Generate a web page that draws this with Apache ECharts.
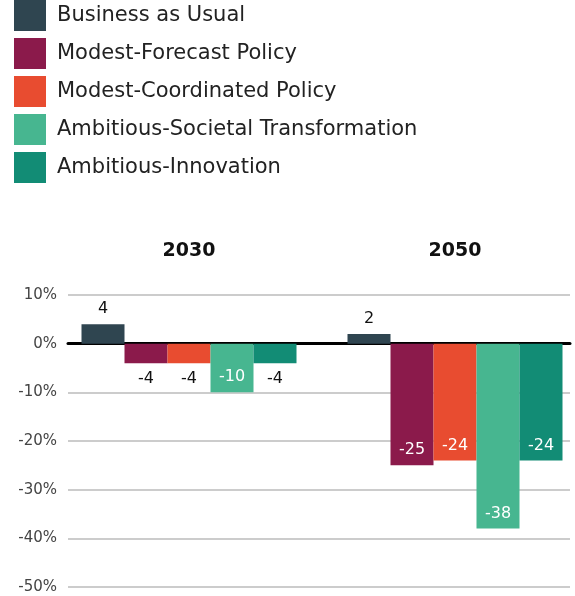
<!DOCTYPE html>
<html>
<head>
<meta charset="utf-8">
<script src="https://cdn.jsdelivr.net/npm/echarts@6/dist/echarts.min.js"></script>
<style>
  html, body { margin: 0; padding: 0; background: #fff; }
  #chart { width: 575px; height: 596px; }
</style>
</head>
<body>
<div id="chart"></div>
<script>
var years = ['2030', '2050'];
var seriesNames = ['Business as Usual', 'Modest-Forecast Policy', 'Modest-Coordinated Policy', 'Ambitious-Societal Transformation', 'Ambitious-Innovation'];
var colors = ['#2f4550', '#8b1a4b', '#e84c30', '#47b690', '#128c75'];
var businessAsUsual = [4, 2];
var modestForecast = [-4, -25];
var modestCoordinated = [-4, -24];
var ambitiousSocietal = [-10, -38];
var ambitiousInnovation = [-4, -24];
var allValues = [businessAsUsual, modestForecast, modestCoordinated, ambitiousSocietal, ambitiousInnovation];

var font = '"DejaVu Sans", "Noto Sans", sans-serif';

// positive -> above, small negative -> below the bar, big negative -> inside at the bottom
function labelFor(v) {
  if (v > 0) {
    return { show: true, position: 'top', distance: 7, color: '#111', fontSize: 16 };
  }
  if (v >= -5) {
    return { show: true, position: 'bottom', distance: 8, color: '#111', fontSize: 16 };
  }
  return { show: true, position: 'insideBottom', distance: 7, color: '#fff', fontSize: 16 };
}

var seriesArr = [];
for (let i = 0; i < seriesNames.length; i++) {
  seriesArr.push({
    name: seriesNames[i],
    type: 'bar',
    xAxisIndex: 1,
    yAxisIndex: 1,
    barWidth: 43,
    barGap: '0%',
    itemStyle: { color: colors[i] },
    data: allValues[i].map(function (v) {
      return { value: v, label: labelFor(v) };
    })
  });
}

var option = {
  animation: false,
  textStyle: { fontFamily: font },
  legend: {
    orient: 'vertical',
    left: 14,
    top: 0,
    padding: 0,
    itemWidth: 32,
    itemHeight: 31,
    itemGap: 7,
    icon: 'rect',
    textStyle: { fontSize: 21, color: '#222', fontFamily: font, padding: [3, 0, 0, 6] },
    data: seriesNames
  },
  grid: [
    { left: 68, right: 5, top: 295, bottom: 9, outerBoundsMode: 'none' },   // gridlines + zero line
    { left: 56, width: 532, top: 295, bottom: 9, outerBoundsMode: 'none' }  // bars
  ],
  xAxis: [
    {
      type: 'category',
      gridIndex: 0,
      data: years,
      axisLine: { onZero: true, lineStyle: { color: '#000', width: 3 } },
      axisTick: { show: false },
      axisLabel: { show: false }
    },
    {
      type: 'category',
      gridIndex: 1,
      data: years,
      axisLine: { show: false },
      axisTick: { show: false },
      axisLabel: { show: false }
    },
    {
      type: 'category',
      gridIndex: 1,
      data: years,
      position: 'top',
      axisLine: { show: false },
      axisTick: { show: false },
      axisLabel: { show: true, margin: 34, fontSize: 19, fontWeight: 'bold', color: '#111', fontFamily: font }
    }
  ],
  yAxis: [
    {
      type: 'value',
      gridIndex: 0,
      min: -50,
      max: 10,
      interval: 10,
      axisLine: { show: false },
      axisTick: { show: false },
      axisLabel: {
        formatter: '{value}%',
        fontSize: 15,
        color: '#444',
        margin: 11,
        fontFamily: font
      },
      splitLine: { lineStyle: { color: '#cccccc', width: 2 } }
    },
    {
      type: 'value',
      gridIndex: 1,
      min: -50,
      max: 10,
      interval: 10,
      show: false
    }
  ],
  series: seriesArr
};

var myChart = echarts.init(document.getElementById('chart'));
myChart.setOption(option);
</script>
</body>
</html>
